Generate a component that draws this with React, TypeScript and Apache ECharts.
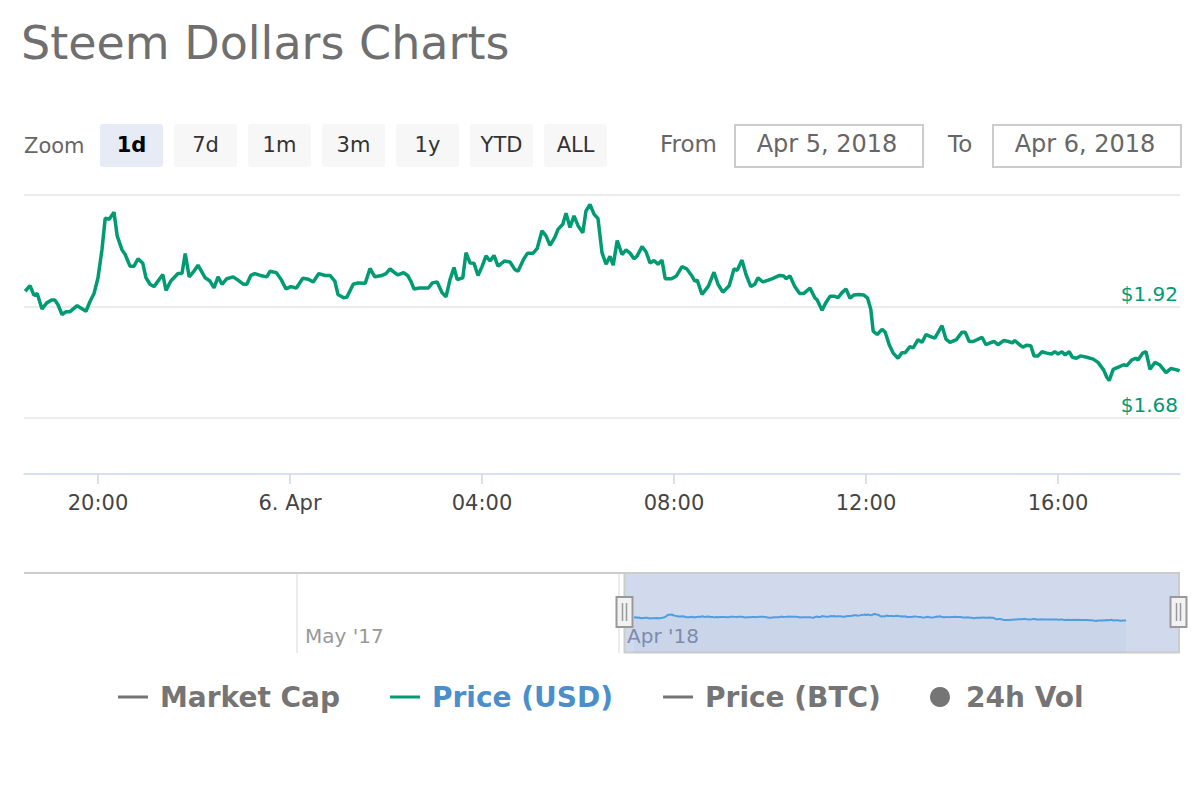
import React, { useEffect, useRef } from 'react';
import * as echarts from 'echarts';

const FONT = 'DejaVu Sans';
const GREEN = '#009b72';
const NAV_BLUE = '#4d9fe0';

const zoomButtons = ['1d', '7d', '1m', '3m', '1y', 'YTD', 'ALL'];
const fromLabel = 'Apr 5, 2018';
const toLabel = 'Apr 6, 2018';
const navLabels = ["May '17", "Apr '18"];
const legendNames = ['Market Cap', 'Price (USD)', 'Price (BTC)', '24h Vol'];
const yLabelTicks = ['1.68', '1.92'];

const priceTimes = [
  '04-05 18:29', '04-05 18:35', '04-05 18:40', '04-05 18:44', '04-05 18:50', '04-05 18:56', '04-05 19:02', '04-05 19:06',
  '04-05 19:10', '04-05 19:15', '04-05 19:20', '04-05 19:25', '04-05 19:34', '04-05 19:45', '04-05 19:50', '04-05 19:55',
  '04-05 20:00', '04-05 20:05', '04-05 20:09', '04-05 20:14', '04-05 20:20', '04-05 20:24', '04-05 20:30', '04-05 20:34',
  '04-05 20:40', '04-05 20:45', '04-05 20:50', '04-05 20:56', '04-05 21:00', '04-05 21:05', '04-05 21:10', '04-05 21:21',
  '04-05 21:25', '04-05 21:31', '04-05 21:40', '04-05 21:45', '04-05 21:49', '04-05 21:54', '04-05 21:59', '04-05 22:05',
  '04-05 22:14', '04-05 22:20', '04-05 22:25', '04-05 22:30', '04-05 22:35', '04-05 22:41', '04-05 22:49', '04-05 22:55',
  '04-05 23:02', '04-05 23:06', '04-05 23:11', '04-05 23:16', '04-05 23:23', '04-05 23:31', '04-05 23:35', '04-05 23:43',
  '04-05 23:49', '04-05 23:55', '04-06 00:01', '04-06 00:08', '04-06 00:16', '04-06 00:23', '04-06 00:29', '04-06 00:36',
  '04-06 00:44', '04-06 00:50', '04-06 00:56', '04-06 01:00', '04-06 01:07', '04-06 01:11', '04-06 01:19', '04-06 01:25',
  '04-06 01:34', '04-06 01:40', '04-06 01:46', '04-06 01:55', '04-06 02:00', '04-06 02:05', '04-06 02:10', '04-06 02:15',
  '04-06 02:22', '04-06 02:27', '04-06 02:31', '04-06 02:35', '04-06 02:42', '04-06 02:53', '04-06 02:58', '04-06 03:04',
  '04-06 03:10', '04-06 03:15', '04-06 03:20', '04-06 03:25', '04-06 03:29', '04-06 03:36', '04-06 03:40', '04-06 03:45',
  '04-06 03:50', '04-06 03:55', '04-06 04:00', '04-06 04:05', '04-06 04:10', '04-06 04:15', '04-06 04:20', '04-06 04:28',
  '04-06 04:35', '04-06 04:41', '04-06 04:45', '04-06 04:52', '04-06 04:57', '04-06 05:04', '04-06 05:09', '04-06 05:15',
  '04-06 05:20', '04-06 05:25', '04-06 05:31', '04-06 05:35', '04-06 05:41', '04-06 05:45', '04-06 05:50', '04-06 05:55',
  '04-06 06:00', '04-06 06:06', '04-06 06:10', '04-06 06:15', '04-06 06:20', '04-06 06:25', '04-06 06:30', '04-06 06:35',
  '04-06 06:40', '04-06 06:44', '04-06 06:49', '04-06 06:55', '04-06 07:00', '04-06 07:05', '04-06 07:10', '04-06 07:14',
  '04-06 07:20', '04-06 07:25', '04-06 07:30', '04-06 07:35', '04-06 07:40', '04-06 07:45', '04-06 07:49', '04-06 07:57',
  '04-06 08:03', '04-06 08:10', '04-06 08:16', '04-06 08:22', '04-06 08:26', '04-06 08:29', '04-06 08:35', '04-06 08:43',
  '04-06 08:50', '04-06 08:55', '04-06 09:01', '04-06 09:09', '04-06 09:15', '04-06 09:19', '04-06 09:25', '04-06 09:30',
  '04-06 09:36', '04-06 09:41', '04-06 09:45', '04-06 09:51', '04-06 09:58', '04-06 10:03', '04-06 10:12', '04-06 10:17',
  '04-06 10:20', '04-06 10:25', '04-06 10:31', '04-06 10:37', '04-06 10:42', '04-06 10:50', '04-06 10:56', '04-06 10:59',
  '04-06 11:05', '04-06 11:10', '04-06 11:15', '04-06 11:21', '04-06 11:25', '04-06 11:30', '04-06 11:35', '04-06 11:40',
  '04-06 11:45', '04-06 11:51', '04-06 11:57', '04-06 12:02', '04-06 12:06', '04-06 12:09', '04-06 12:14', '04-06 12:20',
  '04-06 12:24', '04-06 12:29', '04-06 12:34', '04-06 12:40', '04-06 12:45', '04-06 12:49', '04-06 12:55', '04-06 12:59',
  '04-06 13:05', '04-06 13:10', '04-06 13:15', '04-06 13:20', '04-06 13:26', '04-06 13:35', '04-06 13:40', '04-06 13:45',
  '04-06 13:53', '04-06 14:00', '04-06 14:04', '04-06 14:09', '04-06 14:14', '04-06 14:19', '04-06 14:25', '04-06 14:30',
  '04-06 14:35', '04-06 14:40', '04-06 14:45', '04-06 14:52', '04-06 14:58', '04-06 15:03', '04-06 15:06', '04-06 15:12',
  '04-06 15:16', '04-06 15:21', '04-06 15:26', '04-06 15:30', '04-06 15:35', '04-06 15:40', '04-06 15:46', '04-06 15:52',
  '04-06 15:56', '04-06 16:00', '04-06 16:05', '04-06 16:09', '04-06 16:14', '04-06 16:18', '04-06 16:23', '04-06 16:28',
  '04-06 16:36', '04-06 16:44', '04-06 16:50', '04-06 16:57', '04-06 17:01', '04-06 17:04', '04-06 17:09', '04-06 17:17',
  '04-06 17:22', '04-06 17:26', '04-06 17:32', '04-06 17:37', '04-06 17:40', '04-06 17:46', '04-06 17:50', '04-06 17:55',
  '04-06 18:01', '04-06 18:07', '04-06 18:15', '04-06 18:21', '04-06 18:26', '04-06 18:32',
];

const priceValues = [
  1.953, 1.965, 1.944, 1.948, 1.915, 1.928, 1.934, 1.934,
  1.924, 1.903, 1.909, 1.909, 1.922, 1.910, 1.931, 1.948,
  1.982, 2.043, 2.110, 2.108, 2.123, 2.072, 2.042, 2.032,
  2.007, 2.007, 2.023, 2.013, 1.982, 1.968, 1.963, 1.989,
  1.955, 1.975, 1.991, 1.991, 2.034, 1.984, 1.994, 2.009,
  1.982, 1.975, 1.960, 1.984, 1.968, 1.980, 1.984, 1.977,
  1.968, 1.968, 1.987, 1.991, 1.987, 1.984, 1.996, 1.993,
  1.978, 1.958, 1.963, 1.960, 1.981, 1.979, 1.973, 1.991,
  1.987, 1.987, 1.975, 1.946, 1.939, 1.940, 1.968, 1.971,
  1.970, 2.002, 1.984, 1.987, 1.991, 2.001, 1.994, 1.988,
  1.993, 1.987, 1.975, 1.958, 1.960, 1.960, 1.971, 1.973,
  1.950, 1.941, 1.978, 2.004, 1.978, 1.982, 2.036, 2.014,
  2.013, 1.987, 2.006, 2.029, 2.018, 2.030, 2.007, 2.018,
  2.016, 2.000, 1.996, 2.022, 2.035, 2.035, 2.045, 2.083,
  2.072, 2.052, 2.069, 2.086, 2.097, 2.121, 2.090, 2.115,
  2.094, 2.079, 2.126, 2.140, 2.119, 2.109, 2.036, 2.011,
  2.028, 2.009, 2.062, 2.032, 2.042, 2.035, 2.023, 2.029,
  2.049, 2.038, 2.014, 2.019, 2.011, 2.020, 1.980, 1.980,
  1.986, 2.006, 2.001, 1.987, 1.975, 1.977, 1.946, 1.964,
  1.994, 1.968, 1.951, 1.965, 2.001, 1.998, 2.020, 1.989,
  1.963, 1.968, 1.982, 1.973, 1.977, 1.980, 1.987, 1.986,
  1.980, 1.986, 1.963, 1.948, 1.948, 1.960, 1.939, 1.934,
  1.912, 1.929, 1.942, 1.942, 1.939, 1.950, 1.958, 1.938,
  1.945, 1.946, 1.945, 1.938, 1.914, 1.867, 1.860, 1.871,
  1.865, 1.838, 1.820, 1.809, 1.821, 1.821, 1.834, 1.831,
  1.849, 1.843, 1.860, 1.856, 1.852, 1.879, 1.850, 1.843,
  1.849, 1.865, 1.865, 1.845, 1.845, 1.849, 1.854, 1.838,
  1.842, 1.845, 1.838, 1.847, 1.845, 1.842, 1.847, 1.838,
  1.833, 1.837, 1.836, 1.814, 1.814, 1.823, 1.820, 1.818,
  1.823, 1.818, 1.823, 1.816, 1.823, 1.811, 1.809, 1.814,
  1.811, 1.807, 1.800, 1.784, 1.768, 1.761, 1.785, 1.791,
  1.795, 1.793, 1.805, 1.809, 1.805, 1.820, 1.823, 1.785,
  1.800, 1.795, 1.778, 1.787, 1.785, 1.782,
];

const parseTime = (s: string) => {
  const [md, hm] = s.split(' ');
  const [mo, d] = md.split('-').map(Number);
  const [h, m] = hm.split(':').map(Number);
  return new Date(2018, mo - 1, d, h, m).getTime();
};

const HOUR = 3600 * 1000;
const viewStart = new Date(2018, 3, 5, 18, 27, 30).getTime();
const viewEnd = new Date(2018, 3, 6, 18, 32, 30).getTime();
const navStart = new Date(2018, 3, 4, 12, 40).getTime();
const navEnd = new Date(2018, 3, 6, 21, 10).getTime();

const pad2 = (n: number) => (n < 10 ? '0' + n : '' + n);

export default function App() {
  const ref = useRef<HTMLDivElement>(null);

  useEffect(() => {
    if (!ref.current) return;
    const chart = echarts.init(ref.current, null, { renderer: 'svg' });
    const mainData = priceTimes.map((t, i) => [parseTime(t), priceValues[i]]);

    const graphics: any[] = [];
    // Range selector
    graphics.push({ type: 'text', x: 24, y: 146, style: { text: 'Zoom', fill: '#666666', font: `21px "${FONT}"`, verticalAlign: 'middle' } });
    zoomButtons.forEach((b, i) => {
      const x = 100 + i * 74;
      const active = i === 0;
      graphics.push({
        type: 'rect',
        shape: { x, y: 124, width: 63, height: 43, r: 3 },
        style: { fill: active ? '#e6ebf5' : '#f7f7f7' },
      });
      graphics.push({
        type: 'text',
        x: x + 31.5,
        y: 145,
        style: {
          text: b,
          fill: active ? '#000000' : '#333333',
          font: `${active ? 'bold ' : ''}21px "${FONT}"`,
          align: 'center',
          verticalAlign: 'middle',
        },
      });
    });
    graphics.push({ type: 'text', x: 660, y: 144, style: { text: 'From', fill: '#666666', font: `23px "${FONT}"`, verticalAlign: 'middle' } });
    graphics.push({ type: 'rect', shape: { x: 735, y: 125, width: 188, height: 42 }, style: { fill: '#ffffff', stroke: '#cccccc', lineWidth: 2 } });
    graphics.push({ type: 'text', x: 827, y: 144, style: { text: fromLabel, fill: '#666666', font: `24px "${FONT}"`, align: 'center', verticalAlign: 'middle' } });
    graphics.push({ type: 'text', x: 948, y: 144, style: { text: 'To', fill: '#666666', font: `23px "${FONT}"`, verticalAlign: 'middle' } });
    graphics.push({ type: 'rect', shape: { x: 993, y: 125, width: 188, height: 42 }, style: { fill: '#ffffff', stroke: '#cccccc', lineWidth: 2 } });
    graphics.push({ type: 'text', x: 1085, y: 144, style: { text: toLabel, fill: '#666666', font: `24px "${FONT}"`, align: 'center', verticalAlign: 'middle' } });

    // Navigator frame
    graphics.push({ type: 'line', shape: { x1: 297, y1: 573, x2: 297, y2: 653 }, style: { stroke: '#e6e6e6', lineWidth: 1.5 } });
    graphics.push({ type: 'line', shape: { x1: 619, y1: 573, x2: 619, y2: 653 }, style: { stroke: '#e6e6e6', lineWidth: 1.5 } });
    graphics.push({ type: 'text', x: 305, y: 636, style: { text: navLabels[0], fill: '#999999', font: `20px "${FONT}"`, verticalAlign: 'middle' } });
    graphics.push({ type: 'text', x: 627, y: 636, style: { text: navLabels[1], fill: '#8a93a5', font: `20px "${FONT}"`, verticalAlign: 'middle' } });
    graphics.push({ type: 'rect', shape: { x: 624.5, y: 573, width: 554.5, height: 79.5 }, style: { fill: 'rgba(102,133,194,0.3)', stroke: '#cccccc', lineWidth: 2 } });
    graphics.push({ type: 'line', shape: { x1: 24, y1: 573, x2: 1180, y2: 573 }, style: { stroke: '#cccccc', lineWidth: 2 } });
    [616.5, 1170.5].forEach((hx) => {
      graphics.push({ type: 'rect', z: 10, shape: { x: hx, y: 597, width: 16, height: 30 }, style: { fill: '#f2f2f2', stroke: '#999999', lineWidth: 2 } });
      graphics.push({ type: 'line', z: 11, shape: { x1: hx + 6, y1: 603, x2: hx + 6, y2: 621 }, style: { stroke: '#999999', lineWidth: 1.5 } });
      graphics.push({ type: 'line', z: 11, shape: { x1: hx + 10, y1: 603, x2: hx + 10, y2: 621 }, style: { stroke: '#999999', lineWidth: 1.5 } });
    });

    const legendText = { fontSize: 28, fontWeight: 'bold', color: '#757575', fontFamily: FONT };
    const hidden = { 'Market Cap': false, 'Price (BTC)': false, '24h Vol': false };

    const option: any = {
      animation: false,
      backgroundColor: '#ffffff',
      textStyle: { fontFamily: FONT },
      title: {
        text: 'Steem Dollars Charts',
        left: 16,
        top: 15,
        textStyle: { fontSize: 46, fontWeight: 'normal', color: '#6f6f6f', fontFamily: FONT },
      },
      legend: [
        {
          data: [
            { name: legendNames[0] },
            { name: legendNames[1], textStyle: { color: '#4a8fcb' } },
            { name: legendNames[2] },
          ],
          left: 118,
          top: 683,
          padding: 0,
          icon: 'rect',
          itemWidth: 30,
          itemHeight: 3,
          itemGap: 50,
          inactiveColor: '#757575',
          selected: hidden,
          textStyle: { ...legendText, padding: [0, 0, 0, 7] },
        },
        {
          data: [{ name: legendNames[3] }],
          left: 930,
          top: 683,
          padding: 0,
          icon: 'circle',
          itemWidth: 20,
          itemHeight: 20,
          inactiveColor: '#757575',
          selected: hidden,
          textStyle: { ...legendText, padding: [0, 0, 0, 11] },
        },
      ],
      grid: [
        { left: 24, right: 20, top: 195, height: 279 },
        { left: 24, right: 20, top: 573, height: 80 },
      ],
      xAxis: [
        {
          type: 'time',
          gridIndex: 0,
          min: viewStart,
          max: viewEnd,
          minInterval: 4 * HOUR,
          maxInterval: 4 * HOUR,
          axisLine: { lineStyle: { color: '#ccd6eb', width: 1.5 } },
          axisTick: { show: true, length: 10, lineStyle: { color: '#ccd6eb', width: 1.5 } },
          splitLine: { show: false },
          axisLabel: {
            color: '#444444',
            fontSize: 21,
            fontFamily: FONT,
            margin: 18,
            showMinLabel: false,
            showMaxLabel: false,
            formatter: (v: number) => {
              const d = new Date(v);
              if (d.getHours() === 0 && d.getMinutes() === 0) return d.getDate() + '. Apr';
              return pad2(d.getHours()) + ':' + pad2(d.getMinutes());
            },
          },
        },
        {
          type: 'time',
          gridIndex: 1,
          min: navStart,
          max: navEnd,
          show: false,
        },
      ],
      yAxis: [
        {
          type: 'value',
          gridIndex: 0,
          min: 1.56,
          max: 2.16,
          interval: 0.12,
          position: 'right',
          axisLine: { show: false },
          axisTick: { show: false },
          splitLine: { show: true, lineStyle: { color: ['rgba(0,0,0,0)', '#e6e6e6'], width: 1.5 } },
          axisLabel: {
            inside: true,
            margin: 2,
            verticalAlign: 'bottom',
            padding: [0, 0, 3, 0],
            color: GREEN,
            fontSize: 20,
            fontFamily: FONT,
            formatter: (v: number) => {
              const s = v.toFixed(2);
              return yLabelTicks.indexOf(s) >= 0 ? '$' + s : '';
            },
          },
        },
        {
          type: 'value',
          gridIndex: 1,
          min: 0,
          max: 4.4,
          show: false,
          splitLine: { show: false },
        },
      ],
      series: [
        {
          name: legendNames[1],
          type: 'line',
          xAxisIndex: 0,
          yAxisIndex: 0,
          data: mainData,
          symbol: 'none',
          showSymbol: false,
          color: GREEN,
          lineStyle: { width: 3.5, color: GREEN },
          z: 3,
        },
        { name: legendNames[0], type: 'line', xAxisIndex: 0, yAxisIndex: 0, data: [], color: '#434348' },
        { name: legendNames[2], type: 'line', xAxisIndex: 0, yAxisIndex: 0, data: [], color: '#f7a35c' },
        { name: legendNames[3], type: 'bar', xAxisIndex: 0, yAxisIndex: 0, data: [], color: '#7798bf' },
        {
          name: 'navigator',
          type: 'line',
          xAxisIndex: 1,
          yAxisIndex: 1,
          data: mainData,
          symbol: 'none',
          showSymbol: false,
          silent: true,
          color: NAV_BLUE,
          lineStyle: { width: 2, color: NAV_BLUE },
          areaStyle: { color: 'rgba(51,92,173,0.05)' },
          z: 5,
        },
      ],
      graphic: graphics,
    };
    chart.setOption(option);
    return () => chart.dispose();
  }, []);

  return (
    <div
      ref={ref}
      style={{ position: 'absolute', left: 0, top: 0, width: 1200, height: 800, background: '#fff' }}
    />
  );
}
